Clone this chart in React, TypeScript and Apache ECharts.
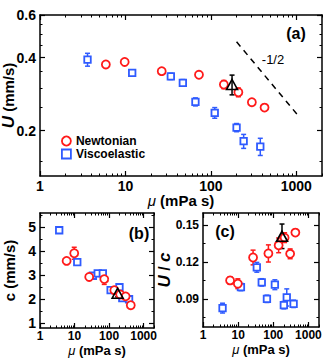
import React, { useEffect, useRef } from 'react';
import * as echarts from 'echarts';

// ---- data ----
const muNewtonian = [5.9, 9.8, 26.6, 72.6, 142, 210, 302, 425];
const muViscoelastic = [3.6, 12, 34, 47, 66, 111, 200, 242, 379];
const muMarked = [177];

const uNewtonian = [0.375, 0.384, 0.352, 0.34, 0.31, 0.288, 0.262, 0.249];
const uNewtonianErr = [0.006, 0.006, 0.008, 0.006, 0.012, 0.012, 0.006, 0.006];
const uViscoelastic = [0.393, 0.346, 0.335, 0.315, 0.263, 0.237, 0.206, 0.181, 0.172];
const uViscoelasticErr = [0.024, 0.01, 0.01, 0.01, 0.01, 0.012, 0.008, 0.012, 0.014];
const uMarked = [0.31];
const uMarkedErr = [0.029];

const cNewtonian = [3.6, 3.92, 2.93, 2.84, 2.38, 2.2, 2.12, 1.75];
const cNewtonianErr = [0.08, 0.25, 0.1, 0.22, 0.1, 0.1, 0.08, 0.06];
const cViscoelastic = [4.88, 3.55, 2.98, 3.08, 3.08, 2.38, 2.5, 2.05, 2.0];
const cViscoelasticErr = [0.05, 0.08, 0.05, 0.05, 0.05, 0.05, 0.08, 0.08, 0.08];
const cMarked = [2.25];
const cMarkedErr = [0.15];

const ucNewtonian = [0.105, 0.1023, 0.1237, 0.127, 0.1336, 0.1399, 0.1267, 0.144];
const ucNewtonianErr = [0.003, 0.004, 0.006, 0.007, 0.006, 0.004, 0.004, 0.002];
const ucViscoelastic = [0.0824, 0.0996, 0.1157, 0.1034, 0.09, 0.1015, 0.0848, 0.0911, 0.0859];
const ucViscoelasticErr = [0.004, 0.003, 0.004, 0.003, 0.003, 0.004, 0.003, 0.007, 0.003];
const ucMarked = [0.141];
const ucMarkedErr = [0.01];

const slopeLine = [[200, 0.465], [1060, 0.23]];

// ---- ticks ----
const muRange = [1, 2000];
const muMajorTicks = [1, 10, 100, 1000];
const muMinorFactors = [2, 3, 4, 5, 6, 7, 8, 9];
const uRange = [0.13, 0.6];
const uMajorTicks = [0.2, 0.4, 0.6];
const uMinorTicks = [0.15, 0.25, 0.3, 0.35, 0.45, 0.5, 0.55];
const cRange = [0.8, 5.6];
const cMajorTicks = [1, 2, 3, 4, 5];
const cMinorTicks = [1.5, 2.5, 3.5, 4.5, 5.5];
const ucRange = [0.067, 0.16];
const ucMajorTicks = [0.09, 0.12, 0.15];
const ucMinorTicks = [0.075, 0.105, 0.135];

const RED = '#ff1a1a';
const BLUE = '#2f5bff';
const FONT = '"Liberation Sans", Arial, sans-serif';

const lg = (v: number) => Math.log10(v);

const muMinorTicks: number[] = [];
muMajorTicks.forEach((m) => muMinorFactors.forEach((f) => {
  if (m * f <= muRange[1]) muMinorTicks.push(m * f);
}));

function axisSet(
  dim: 'x' | 'y',
  gridIndex: number,
  min: number,
  max: number,
  majors: number[],
  minors: number[],
  formatter: (v: number) => string,
  labelSize: number,
  labelMargin: number,
  name: string,
  nameSize: number,
  nameGap: number,
  rich: any
) {
  const pos1 = dim === 'x' ? 'bottom' : 'left';
  const pos2 = dim === 'x' ? 'top' : 'right';
  const base = {
    type: 'value',
    gridIndex,
    min,
    max,
    splitLine: { show: false },
    axisLine: { show: false, onZero: false },
    axisTick: { show: false },
    axisLabel: { show: false },
  };
  const line = { show: true, onZero: false, lineStyle: { color: '#000', width: 1.5 } };
  const majT = { show: true, inside: true, length: 5, customValues: majors, lineStyle: { color: '#000', width: 1.2 } };
  const minT = { show: true, inside: true, length: 2.5, customValues: minors, lineStyle: { color: '#000', width: 1 } };
  return [
    {
      ...base,
      position: pos1,
      axisLine: line,
      axisTick: majT,
      axisLabel: {
        show: true,
        customValues: majors,
        formatter,
        margin: labelMargin,
        fontSize: labelSize,
        fontWeight: 'bold',
        color: '#000',
        fontFamily: FONT,
      },
      name,
      nameLocation: 'middle',
      nameGap,
      nameMoveOverlap: false,
      nameRotate: dim === 'y' ? 90 : 0,
      nameTextStyle: { fontSize: nameSize, fontWeight: 'bold', color: '#000', fontFamily: FONT, rich },
    },
    { ...base, position: pos1, axisTick: minT },
    { ...base, position: pos2, axisLine: line, axisTick: majT },
    { ...base, position: pos2, axisTick: minT },
  ];
}

function errorSeries(xi: number, yi: number, color: string, data: number[][], cap: number) {
  return {
    type: 'custom',
    xAxisIndex: xi,
    yAxisIndex: yi,
    z: 1,
    silent: true,
    encode: { x: 0, y: [1, 2] },
    data,
    renderItem: (params: any, api: any) => {
      const x = api.value(0);
      const top = api.coord([x, api.value(2)]);
      const bot = api.coord([x, api.value(1)]);
      const st = { stroke: color, lineWidth: 1.5 };
      return {
        type: 'group',
        children: [
          { type: 'line', shape: { x1: top[0], y1: top[1], x2: bot[0], y2: bot[1] }, style: st },
          { type: 'line', shape: { x1: top[0] - cap, y1: top[1], x2: top[0] + cap, y2: top[1] }, style: st },
          { type: 'line', shape: { x1: bot[0] - cap, y1: bot[1], x2: bot[0] + cap, y2: bot[1] }, style: st },
        ],
      };
    },
  };
}

function panelSeries(
  p: number,
  logY: boolean,
  yN: number[], eN: number[],
  yV: number[], eV: number[],
  yT: number[], eT: number[],
  circle: number, square: number
) {
  const xi = p * 4;
  const yi = p * 4;
  const ty = (v: number) => (logY ? lg(v) : v);
  const pts = (mu: number[], y: number[]) => mu.map((m, i) => [lg(m), ty(y[i])]);
  const errs = (mu: number[], y: number[], e: number[]) =>
    mu.map((m, i) => [lg(m), ty(y[i] - e[i]), ty(y[i] + e[i])]);
  return [
    errorSeries(xi, yi, BLUE, errs(muViscoelastic, yV, eV), 2.5),
    errorSeries(xi, yi, RED, errs(muNewtonian, yN, eN), 2.5),
    {
      type: 'scatter',
      name: 'Viscoelastic',
      xAxisIndex: xi,
      yAxisIndex: yi,
      symbol: 'rect',
      symbolSize: square,
      itemStyle: { color: '#fff', borderColor: BLUE, borderWidth: 1.8, opacity: 1 },
      data: pts(muViscoelastic, yV),
      z: 3,
    },
    {
      type: 'scatter',
      name: 'Newtonian',
      xAxisIndex: xi,
      yAxisIndex: yi,
      symbol: 'circle',
      symbolSize: circle,
      itemStyle: { color: '#fff', borderColor: RED, borderWidth: 1.8, opacity: 1 },
      data: pts(muNewtonian, yN),
      z: 4,
    },
    errorSeries(xi, yi, '#000', errs(muMarked, yT, eT), 2.5),
    {
      type: 'scatter',
      name: 'marked',
      xAxisIndex: xi,
      yAxisIndex: yi,
      symbol: 'triangle',
      symbolSize: [11, 10],
      itemStyle: { color: 'rgba(255,255,255,0)', borderColor: '#000', borderWidth: 1.6, opacity: 1 },
      data: pts(muMarked, yT),
      z: 6,
    },
  ];
}

const muFmt = (v: number) => String(Math.round(Math.pow(10, v)));
const muName = '{m|μ} (mPa s)';

export default function App() {
  const ref = useRef<HTMLDivElement>(null);
  useEffect(() => {
    document.body.style.margin = '0';
    if (!ref.current) return;
    const chart = echarts.init(ref.current, undefined, { renderer: 'svg' });
    const lgMu = [lg(muRange[0]), lg(muRange[1])];
    const richMu = (s: number) => ({ m: { fontStyle: 'italic', fontWeight: 'normal', fontSize: s, fontFamily: FONT } });

    const xAxis = [
      ...axisSet('x', 0, lgMu[0], lgMu[1], muMajorTicks.map(lg), muMinorTicks.map(lg), muFmt, 14, 3, muName, 15, 17, richMu(15)),
      ...axisSet('x', 1, lgMu[0], lgMu[1], muMajorTicks.map(lg), muMinorTicks.map(lg), muFmt, 12, 2, muName, 13, 16, richMu(13)),
      ...axisSet('x', 2, lgMu[0], lgMu[1], muMajorTicks.map(lg), muMinorTicks.map(lg), muFmt, 12, 2, muName, 13, 16, richMu(13)),
    ];
    const yAxis = [
      ...axisSet('y', 0, lg(uRange[0]), lg(uRange[1]), uMajorTicks.map(lg), uMinorTicks.map(lg),
        (v: number) => Math.pow(10, v).toFixed(1), 14, 4, '{i|U} (mm/s)', 15, 23,
        { i: { fontStyle: 'italic', fontWeight: 'bold', fontSize: 17, fontFamily: FONT } }),
      ...axisSet('y', 1, cRange[0], cRange[1], cMajorTicks, cMinorTicks,
        (v: number) => String(Math.round(v)), 14, 4, 'c (mm/s)', 15, 23, {}),
      ...axisSet('y', 2, ucRange[0], ucRange[1], ucMajorTicks, ucMinorTicks,
        (v: number) => v.toFixed(2), 12, 4, '{i|U} / {i|c}', 16, 30,
        { i: { fontStyle: 'italic', fontWeight: 'bold', fontSize: 17, fontFamily: FONT } }),
    ];

    const option: any = {
      animation: false,
      backgroundColor: '#fff',
      grid: [
        { left: 40, top: 15, width: 282, height: 161, containLabel: false, outerBoundsMode: 'none' },
        { left: 40, top: 213, width: 114, height: 115, containLabel: false, outerBoundsMode: 'none' },
        { left: 203, top: 213, width: 116, height: 114, containLabel: false, outerBoundsMode: 'none' },
      ],
      xAxis,
      yAxis,
      legend: {
        left: 56,
        top: 130,
        padding: 5,
        orient: 'vertical',
        itemWidth: 9,
        itemHeight: 9,
        itemGap: 1,
        selectedMode: false,
        textStyle: { fontFamily: FONT, fontSize: 12, fontWeight: 'bold', color: '#000' },
        data: [
          { name: 'Newtonian', icon: 'circle', itemStyle: { color: '#fff', borderColor: RED, borderWidth: 1.8 } },
          { name: 'Viscoelastic', icon: 'rect', itemStyle: { color: '#fff', borderColor: BLUE, borderWidth: 1.8 } },
        ],
      },
      series: [
        ...panelSeries(0, true, uNewtonian, uNewtonianErr, uViscoelastic, uViscoelasticErr, uMarked, uMarkedErr, 8, 6.5),
        ...panelSeries(1, false, cNewtonian, cNewtonianErr, cViscoelastic, cViscoelasticErr, cMarked, cMarkedErr, 8, 6.5),
        ...panelSeries(2, false, ucNewtonian, ucNewtonianErr, ucViscoelastic, ucViscoelasticErr, ucMarked, ucMarkedErr, 8, 6.5),
        {
          type: 'line',
          xAxisIndex: 0,
          yAxisIndex: 0,
          symbol: 'none',
          silent: true,
          lineStyle: { color: '#000', width: 1.5, type: [6, 5] },
          data: slopeLine.map((d) => [lg(d[0]), lg(d[1])]),
        },
      ],
      graphic: [
        { type: 'text', x: 296, y: 33, style: { text: '(a)', font: `bold 16px ${FONT}`, fill: '#000', align: 'center', verticalAlign: 'middle' } },
        { type: 'text', x: 273, y: 59, style: { text: '-1/2', font: `13px ${FONT}`, fill: '#000', align: 'center', verticalAlign: 'middle' } },
        { type: 'text', x: 139, y: 233, style: { text: '(b)', font: `bold 16px ${FONT}`, fill: '#000', align: 'center', verticalAlign: 'middle' } },
        { type: 'text', x: 225, y: 231, style: { text: '(c)', font: `bold 16px ${FONT}`, fill: '#000', align: 'center', verticalAlign: 'middle' } },
      ],
    };
    chart.setOption(option);
    return () => chart.dispose();
  }, []);
  return <div ref={ref} style={{ width: 332, height: 359 }} />;
}
